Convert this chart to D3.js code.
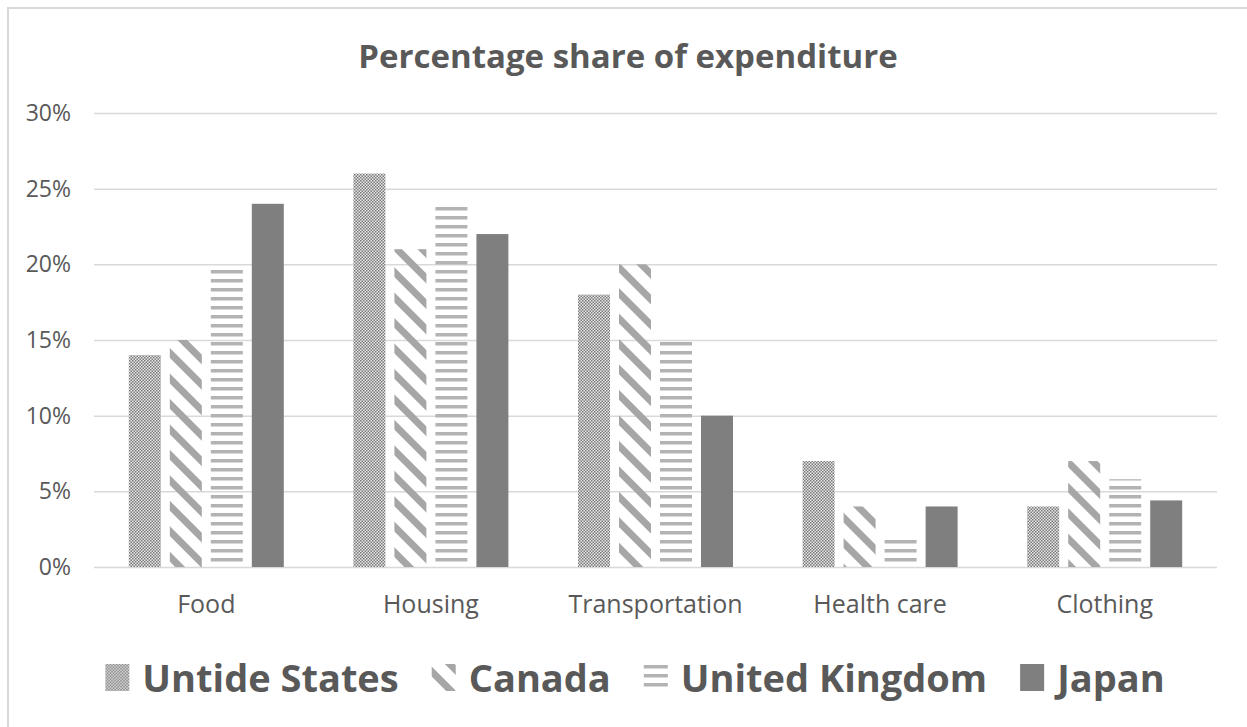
<!DOCTYPE html>
<meta charset="utf-8">
<script src="https://d3js.org/d3.v7.min.js"></script>
<style>
  body { margin: 0; background: #fff; }
  text { font-family: "Open Sans", sans-serif; fill: #595959; }
</style>
<div id="my_dataviz"></div>
<script>

// data
var categories = ["Food", "Housing", "Transportation", "Health care", "Clothing"];
var seriesNames = ["Untide States", "Canada", "United Kingdom", "Japan"];
var unitedStates = [14, 26, 18, 7, 4];
var canada = [15, 21, 20, 4, 7];
var unitedKingdom = [19.8, 24, 15, 2, 5.8];
var japan = [24, 22, 10, 4, 4.4];
var yTicks = [0, 5, 10, 15, 20, 25, 30];

var seriesValues = [unitedStates, canada, unitedKingdom, japan];

var W = 1247, H = 727;
var plot = {left: 94, right: 1217, top: 113, bottom: 567};

var svg = d3.select("#my_dataviz")
    .append("svg")
    .attr("width", W)
    .attr("height", H);

// patterns
var defs = svg.append("defs");

var p1 = defs.append("pattern").attr("id", "pat0")
    .attr("patternUnits", "userSpaceOnUse").attr("width", 3).attr("height", 3);
p1.append("rect").attr("width", 3).attr("height", 3).attr("fill", "#e6e6e6");
p1.append("rect").attr("x", 0).attr("y", 0).attr("width", 1.5).attr("height", 1.5).attr("fill", "#7a7a7a");
p1.append("rect").attr("x", 1.5).attr("y", 1.5).attr("width", 1.5).attr("height", 1.5).attr("fill", "#7a7a7a");

var p2 = defs.append("pattern").attr("id", "pat1")
    .attr("patternUnits", "userSpaceOnUse").attr("width", 18).attr("height", 18)
    .attr("patternTransform", "rotate(45)");
p2.append("rect").attr("width", 18).attr("height", 7).attr("fill", "#a6a6a6");

var p3 = defs.append("pattern").attr("id", "pat2")
    .attr("patternUnits", "userSpaceOnUse").attr("width", 9).attr("height", 9);
p3.append("rect").attr("y", 0).attr("width", 9).attr("height", 3.5).attr("fill", "#b3b3b3");

var fills = ["url(#pat0)", "url(#pat1)", "url(#pat2)", "#7f7f7f"];

// chart border
svg.append("rect")
    .attr("x", 8).attr("y", 8)
    .attr("width", W + 20).attr("height", H + 20)
    .attr("fill", "none")
    .attr("stroke", "#d9d9d9")
    .attr("stroke-width", 2);

// scales
var x = d3.scaleBand()
    .domain(categories)
    .range([plot.left, plot.right])
    .padding(0);

var x1 = d3.scaleBand()
    .domain(d3.range(seriesNames.length))
    .range([-77.5, 77.5])
    .paddingInner(0.22)
    .paddingOuter(0);

var y = d3.scaleLinear()
    .domain([0, 30])
    .range([plot.bottom, plot.top]);

// gridlines + y labels
svg.append("g")
    .attr("transform", "translate(" + plot.left + ",0)")
    .call(d3.axisLeft(y).tickValues(yTicks)
        .tickSize(-(plot.right - plot.left))
        .tickPadding(23)
        .tickFormat(function(d) { return d + "%"; }))
    .call(function(g) {
        g.select(".domain").remove();
        g.selectAll(".tick line").attr("stroke", "#d9d9d9").attr("stroke-width", 1.5);
        g.selectAll(".tick text").style("font-size", "23px").attr("fill", "#595959");
    });

// bars
seriesValues.forEach(function(vals, si) {
    svg.append("g")
        .selectAll("rect")
        .data(vals)
        .enter()
        .append("rect")
        .attr("x", function(d, i) { return x(categories[i]) + x.bandwidth() / 2 + x1(si); })
        .attr("y", function(d) { return y(d); })
        .attr("width", x1.bandwidth())
        .attr("height", function(d) { return y(0) - y(d); })
        .attr("fill", fills[si]);
});

// category labels
svg.append("g")
    .attr("transform", "translate(0," + plot.bottom + ")")
    .call(d3.axisBottom(x).tickSize(0).tickPadding(28))
    .call(function(g) {
        g.select(".domain").remove();
        g.selectAll(".tick text").style("font-size", "25px").attr("fill", "#595959");
    });

// title
svg.append("text")
    .attr("x", 628)
    .attr("y", 68)
    .attr("text-anchor", "middle")
    .style("font-size", "33px")
    .style("font-weight", "bold")
    .text("Percentage share of expenditure");

// legend
var legend = svg.append("g");
var lx = 0;
seriesNames.forEach(function(name, si) {
    var item = legend.append("g").attr("transform", "translate(" + lx + ",0)");
    item.append("rect")
        .attr("x", 0).attr("y", -28)
        .attr("width", 24).attr("height", 27)
        .attr("fill", fills[si]);
    var t = item.append("text")
        .attr("x", 37).attr("y", 0)
        .style("font-size", "38px")
        .style("font-weight", "bold")
        .text(name);
    lx += 37 + t.node().getComputedTextLength() + 33;
});
lx -= 33;
legend.attr("transform", "translate(" + (635 - lx / 2) + ",692)");

</script>
